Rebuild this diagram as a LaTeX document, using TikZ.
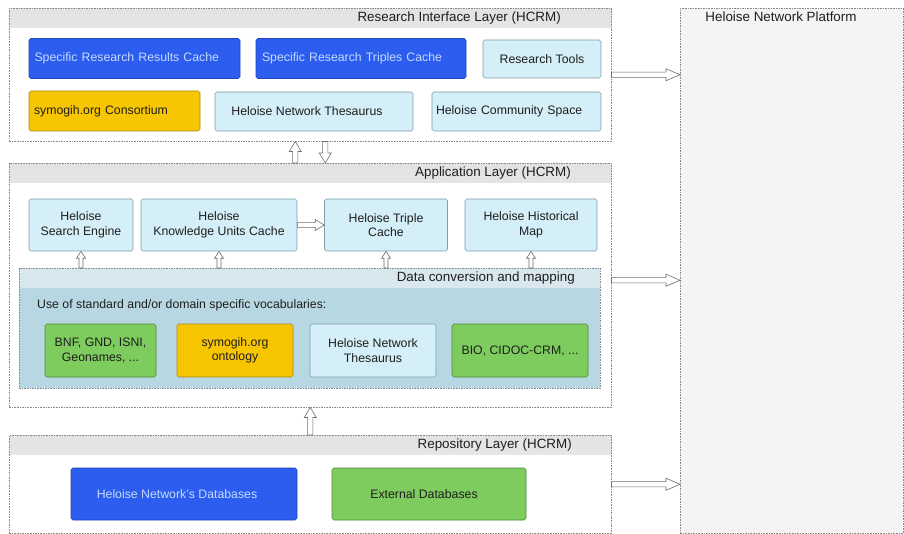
\documentclass[tikz,border=0pt]{standalone}
\usepackage{fontspec}
\setmainfont{Liberation Sans}
\usetikzlibrary{calc}
\definecolor{bxblue}{HTML}{2C5DEF}
\definecolor{bxbluedark}{HTML}{2346B8}
\definecolor{bxbluetext}{HTML}{C4DAFF}
\definecolor{bxcyan}{HTML}{D4EFF7}
\definecolor{bxcyandark}{HTML}{7E9EAC}
\definecolor{bxyellow}{HTML}{F8C600}
\definecolor{bxyellowdark}{HTML}{A98A1C}
\definecolor{bxgreen}{HTML}{7ECB5E}
\definecolor{bxgreendark}{HTML}{4E8B38}
\definecolor{dcfill}{HTML}{B7D8E3}
\definecolor{dchead}{HTML}{D9E8EE}
\definecolor{platfill}{HTML}{F4F4F4}
\definecolor{dashgray}{HTML}{8A8A8A}
\definecolor{bandtop}{HTML}{E3E3E3}
\definecolor{bandbot}{HTML}{F1F1F1}
\definecolor{arrowgray}{HTML}{6E6E6E}
\definecolor{txtdark}{HTML}{1E1E1E}
\newcommand\diagbody{\fontsize{12.3}{14.6}\selectfont}
\newcommand\diagtitle{\fontsize{13.4}{15}\selectfont}
\tikzset{
  base/.style={draw, rounded corners=1.8pt, line width=0.6pt, align=center, inner sep=0pt, font=\diagbody, text=txtdark},
  bluebox/.style={base, fill=bxblue, draw=bxbluedark, text=bxbluetext},
  cyanbox/.style={base, fill=bxcyan, draw=bxcyandark},
  yellowbox/.style={base, fill=bxyellow, draw=bxyellowdark},
  greenbox/.style={base, fill=bxgreen, draw=bxgreendark},
  layer/.style={draw=dashgray, dash pattern=on 1.6pt off 1pt, line width=0.5pt, fill=white, inner sep=0pt, anchor=north west,
    path picture={\shade[top color=bandtop, bottom color=bandbot] (path picture bounding box.north west) rectangle ([yshift=-19pt]path picture bounding box.north east);}},
  dcbox/.style={draw=dashgray, dash pattern=on 1.6pt off 1pt, line width=0.5pt, fill=dcfill, inner sep=0pt, anchor=north west,
    path picture={\fill[dchead] (path picture bounding box.north west) rectangle ([yshift=-20pt]path picture bounding box.north east);}},
  platbox/.style={draw=dashgray, dash pattern=on 1.6pt off 1pt, line width=0.5pt, fill=platfill, inner sep=0pt, anchor=north west},
  ttl/.style={font=\diagtitle, text=txtdark, inner sep=0pt},
  hollow/.style n args={3}{draw=arrowgray, fill=white, line width=0.6pt,
    to path={let \p1=(\tikztostart), \p2=(\tikztotarget), \p3=($(\p2)!#3pt!(\p1)$) in
      ($(\p1)!#1pt!90:(\p2)$) -- ($(\p3)!#1pt!-90:(\p1)$) -- ($(\p3)!#2pt!-90:(\p1)$) -- (\p2)
      -- ($(\p3)!#2pt!90:(\p1)$) -- ($(\p3)!#1pt!90:(\p1)$) -- ($(\p1)!#1pt!-90:(\p2)$) -- cycle}},
}
\begin{document}
\begin{tikzpicture}[x=1pt,y=-1pt]
\fill[white] (0,0) rectangle (904,534);
\useasboundingbox (0,0) rectangle (904,534);

% layers
\node[platbox, minimum width=223, minimum height=525] (plat) at (680,8) {};
\node[layer, minimum width=602, minimum height=133] (ril) at (9,8) {};
\node[layer, minimum width=602, minimum height=244] (al) at (9,163) {};
\node[layer, minimum width=602, minimum height=98] (rl) at (9,435) {};
\node[dcbox, minimum width=581, minimum height=120] (dc) at (19,268) {};

% titles
\node[ttl, anchor=east] (riltitle) at (561,18) {Research Interface Layer (HCRM)};
\node[ttl, anchor=east] (altitle) at (571,173) {Application Layer (HCRM)};
\node[ttl, anchor=east] (dctitle) at (575,278) {Data conversion and mapping};
\node[ttl, anchor=east] (rltitle) at (572,445) {Repository Layer (HCRM)};
\node[ttl] (plattitle) at (781,17) {Heloise Network Platform};
\node[inner sep=0pt, font=\diagbody, text=txtdark, anchor=west] (usetxt) at (37,305) {Use of standard and/or domain specific vocabularies:};

% research interface layer
\node[bluebox, minimum width=211, minimum height=40, text width=200, align=left] (srrc) at (134.5,58.5) {Specific Research Results Cache};
\node[bluebox, minimum width=210, minimum height=40, text width=198, align=left] (srtc) at (361,58.5) {Specific Research Triples Cache};
\node[cyanbox, minimum width=118, minimum height=38] (rtools) at (542,59) {Research Tools};
\node[yellowbox, minimum width=171, minimum height=40, text width=161, align=left] (cons) at (114.5,111) {symogih.org Consortium};
\node[cyanbox, minimum width=198, minimum height=39] (hnt) at (314,111.5) {\hspace*{-14pt}Heloise Network Thesaurus};
\node[cyanbox, minimum width=169, minimum height=39, text width=161, align=left] (hcs) at (516.5,111.5) {Heloise Community Space};

% application layer
\node[cyanbox, minimum width=104, minimum height=52] (hse) at (81,225) {Heloise\\Search Engine};
\node[cyanbox, minimum width=156, minimum height=52] (hkuc) at (219,225) {Heloise\\Knowledge Units Cache};
\node[cyanbox, minimum width=123, minimum height=52] (htc) at (386,225) {Heloise Triple\\Cache};
\node[cyanbox, minimum width=132, minimum height=52] (hhm) at (531,225) {Heloise Historical\\Map};

\node[greenbox, minimum width=111, minimum height=53] (bnf) at (100.5,350.5) {BNF, GND, ISNI,\\Geonames, ...};
\node[yellowbox, minimum width=116, minimum height=53] (symo) at (235,350.5) {symogih.org\\ontology};
\node[cyanbox, minimum width=126, minimum height=53] (hnt2) at (373,350.5) {Heloise Network\\Thesaurus};
\node[greenbox, minimum width=136, minimum height=53] (bio) at (520,350.5) {BIO, CIDOC-CRM, ...};

% repository layer
\node[bluebox, minimum width=226, minimum height=52] (hnd) at (184,494) {\hspace*{-14pt}Heloise Network's Databases};
\node[greenbox, minimum width=194, minimum height=52] (ext) at (429,494) {\hspace*{-10pt}External Databases};

% arrows between layers
\draw[hollow={2.6}{6}{10}] ([xshift=-15pt]al.north) to ([xshift=-15pt]ril.south);
\draw[hollow={2.6}{6}{10}] ([xshift=15pt]ril.south) to ([xshift=15pt]al.north);
\draw[hollow={2.6}{6}{10}] (rl.north) to (al.south);

% internal arrows
\draw[hollow={2.4}{5.5}{9}] (hkuc.east) to (htc.west);
\draw[hollow={2}{4.5}{7}] (dc.north -| hse.south) to (hse.south);
\draw[hollow={2}{4.5}{7}] (dc.north -| hkuc.south) to (hkuc.south);
\draw[hollow={2}{4.5}{7}] (dc.north -| htc.south) to (htc.south);
\draw[hollow={2}{4.5}{7}] (dc.north -| hhm.south) to (hhm.south);

% arrows to platform
\draw[hollow={2.6}{6}{14}] (ril.east) to (ril.east -| plat.west);
\draw[hollow={2.6}{6}{14}] ([yshift=5pt]al.east) to ([yshift=5pt]al.east -| plat.west);
\draw[hollow={2.6}{6}{14}] (rl.east) to (rl.east -| plat.west);
\end{tikzpicture}
\end{document}
